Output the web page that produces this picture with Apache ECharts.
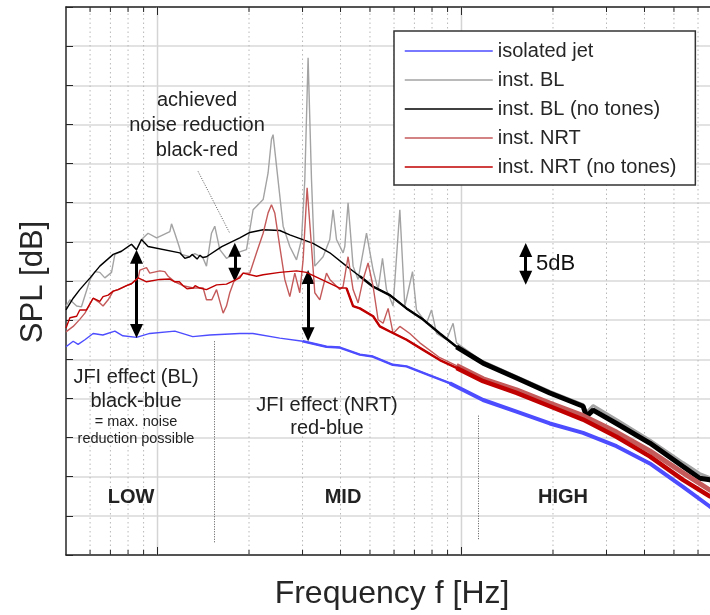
<!DOCTYPE html>
<html>
<head>
<meta charset="utf-8">
<script src="https://cdn.jsdelivr.net/npm/echarts@6/dist/echarts.min.js"></script>
<style>
  html, body { margin: 0; padding: 0; background: #fff; }
  #main { width: 710px; height: 615px; }
</style>
</head>
<body>
<div id="main"></div>
<script>
// spectra: [frequency Hz, SPL dB]
var isolatedJet = [[500,66.6],[528,67.3],[548,66.9],[577,67.5],[614,68.3],[661,68.1],[724,68.6],[769,68.0],[853,67.8],[943,68.3],[1140,68.6],[1306,67.9],[1486,68.1],[1865,68.3],[2059,68.3],[2525,67.7],[3006,67.3],[3597,66.6],[3979,66.5],[4630,65.6],[5108,65.35],[5943,64.3],[6595,64.1],[8046,62.8],[9152,61.95],[11780,59.8],[15170,58.3],[19520,56.8],[25120,55.6],[32350,53.9],[41640,51.7],[53570,48.7],[65600,46.2],[70000,45.5]];

var instBL = [[500,71.8],[515,72.6],[542,71.8],[562,71.7],[600,75.2],[622,76.2],[646,76.1],[671,75.4],[706,76.1],[724,78.4],[761,78.8],[821,79.7],[853,79.0],[886,80.3],[931,81.1],[993,80.5],[1043,80.9],[1098,81.3],[1112,82.3],[1140,81.1],[1178,79.4],[1199,78.4],[1277,78.1],[1326,78.5],[1409,78.0],[1449,76.9],[1505,81.1],[1543,82.0],[1603,79.0],[1686,77.9],[1820,78.6],[1962,79.0],[2063,84.1],[2226,85.4],[2311,88.8],[2371,93.1],[2400,93.7],[2463,89.7],[2590,82.0],[2724,79.4],[2866,77.7],[2977,80.3],[3052,87.9],[3129,103.5],[3211,87.9],[3292,76.9],[3505,78.1],[3688,80.3],[3781,84.1],[3880,80.3],[4079,78.6],[4132,79.4],[4236,85.0],[4399,76.9],[4570,75.2],[4870,81.1],[5120,76.4],[5318,73.9],[5497,77.9],[5666,73.9],[5957,71.8],[6269,84.1],[6510,71.8],[6660,73.5],[6901,76.2],[7112,71.3],[7674,69.6],[7968,71.3],[8277,68.3],[8928,67.5],[9385,69.6],[9630,67.1],[11780,64.7],[15170,62.8],[19520,60.9],[25120,59.2],[25780,58.2],[27100,59.1],[32350,57.3],[41640,54.7],[53570,51.8],[60790,50.4],[65600,49.9],[70000,49.5]];

var instBLNoTones = [[500,71.3],[528,72.8],[555,73.9],[600,75.4],[646,76.9],[715,78.4],[761,78.8],[821,79.7],[853,79.0],[886,80.3],[931,79.4],[1184,78.6],[1230,77.9],[1277,78.1],[1300,78.4],[1350,77.8],[1380,78.3],[1409,78.0],[1449,78.1],[1627,79.4],[1865,80.5],[2012,81.2],[2226,81.55],[2525,81.45],[2724,80.9],[3249,79.8],[3688,78.6],[4185,76.9],[4630,75.6],[5108,74.3],[5811,73.2],[6595,71.5],[7461,70.1],[8488,68.3],[9630,66.6],[11780,64.5],[15170,62.6],[19520,60.7],[25120,59.0],[25780,57.7],[27100,58.5],[32350,56.8],[41640,54.3],[53570,51.3],[60790,49.8],[65600,49.6],[70000,49.3]];

var instNRT = [[500,68.5],[528,69.2],[555,70.1],[577,70.9],[614,72.8],[646,72.2],[662,71.8],[688,72.6],[715,73.7],[742,73.9],[791,74.4],[821,74.65],[864,75.4],[875,76.4],[920,76.7],[943,76.0],[1018,76.3],[1057,76.2],[1084,75.6],[1140,74.9],[1214,74.4],[1310,74.1],[1413,74.1],[1449,72.6],[1509,72.6],[1564,73.9],[1603,72.4],[1644,70.9],[1686,71.8],[1729,73.5],[1782,74.9],[1912,76.0],[2012,76.0],[2117,78.6],[2226,81.1],[2311,83.7],[2371,84.75],[2431,83.7],[2525,79.4],[2623,75.2],[2724,73.0],[2829,76.0],[2938,73.5],[3013,77.7],[3106,86.9],[3211,79.4],[3292,73.5],[3419,72.6],[3597,76.0],[3688,75.2],[3979,73.9],[4079,74.3],[4236,78.1],[4399,73.9],[4570,72.2],[4746,75.2],[4929,77.3],[5120,74.3],[5318,70.05],[5523,69.6],[5737,71.5],[5957,68.3],[6269,69.2],[6761,68.3],[7294,67.1],[8488,65.2],[9630,64.2],[11780,62.5],[15170,61.1],[19520,59.4],[25120,57.8],[32350,55.7],[41640,53.3],[53570,50.5],[65600,48.3],[70000,47.8]];

var instNRTNoTones = [[500,69.0],[515,70.3],[542,70.5],[555,71.3],[584,71.3],[614,72.8],[646,72.4],[662,73.0],[688,73.2],[715,73.7],[742,73.9],[791,74.4],[821,74.65],[864,75.4],[920,74.9],[1018,75.2],[1098,75.25],[1140,74.9],[1180,74.9],[1214,74.4],[1250,74.0],[1310,74.1],[1330,74.4],[1377,74.1],[1449,73.9],[1564,74.5],[1686,74.6],[1865,75.4],[1912,76.0],[2117,75.6],[2226,75.8],[2525,76.1],[2866,76.3],[3091,76.1],[3334,75.5],[3688,74.7],[3979,74.1],[4185,74.1],[4399,71.8],[4630,71.5],[5120,70.5],[5387,69.2],[5811,68.55],[6595,67.5],[7478,66.2],[8488,64.9],[9630,63.9],[11780,62.2],[15170,60.7],[19520,59.0],[25120,57.3],[32350,55.1],[41640,52.6],[53570,49.6],[65600,47.5],[70000,47.0]];

var seriesNames = ['isolated jet', 'inst. BL', 'inst. BL (no tones)', 'inst. NRT', 'inst. NRT (no tones)'];
var seriesColors = ['#4d4dff', '#a3a3a3', '#000000', '#c45a5a', '#c00000'];

// axis ticks (Hz)
var majorTicks = [1000, 10000];
var minorTicks = [600, 700, 800, 900, 2000, 3000, 4000, 5000, 6000, 7000, 8000, 9000, 20000, 30000, 40000, 50000, 60000];
var yMin = 40, yMax = 110, yStep = 5;
var fMin = 500, fMax = 65700;

// double arrows: [freq, upper end dB, lower end dB]
var arrows = [[853, 78.1, 68.6], [1796, 79.0, 75.8], [3129, 75.5, 68.2], [16270, 78.95, 75.4]];
// dotted guides: [f1, dB1, f2, dB2]
var guides = [[1535, 67.3, 1535, 41.5], [11340, 57.8, 11340, 41.9], [1360, 89.0, 1729, 81.1]];

var chart = echarts.init(document.getElementById('main'));
var font = '"Liberation Sans", Arial, sans-serif';
var txt = '#262626';

var tickData = majorTicks.map(function (f) { return [f, yMin, 1]; })
  .concat(minorTicks.map(function (f) { return [f, yMin, 0]; }));

function renderTick(params, api) {
  var f = api.value(0);
  var major = api.value(2) === 1;
  var b = api.coord([f, yMin]);
  var t = api.coord([f, yMax]);
  var len = major ? 8 : 5;
  return {
    type: 'group',
    children: [
      { type: 'line', shape: { x1: b[0], y1: b[1], x2: t[0], y2: t[1] },
        style: major ? { stroke: '#d4d4d4', lineWidth: 1.5 } : { stroke: '#b8b8b8', lineWidth: 1, lineDash: [1.5, 3] } },
      { type: 'line', shape: { x1: b[0], y1: b[1], x2: b[0], y2: b[1] - len }, style: { stroke: txt, lineWidth: 1 } },
      { type: 'line', shape: { x1: t[0], y1: t[1], x2: t[0], y2: t[1] + len }, style: { stroke: txt, lineWidth: 1 } }
    ]
  };
}

function from(data, f0) {
  return data.filter(function (p) { return p[0] >= f0; });
}

var markData = arrows.map(function (a) {
  return [
    { coord: [a[0], a[1]], symbol: 'triangle', symbolSize: [13, 14], lineStyle: { color: '#000', width: 3, type: 'solid' } },
    { coord: [a[0], a[2]], symbol: 'triangle', symbolSize: [13, 14] }
  ];
}).concat(guides.map(function (g) {
  return [
    { coord: [g[0], g[1]], symbol: 'none', lineStyle: { color: '#555', width: 1, type: [1, 1.5] } },
    { coord: [g[2], g[3]], symbol: 'none' }
  ];
}));

var allData = [isolatedJet, instBL, instBLNoTones, instNRT, instNRTNoTones];
var series = [{
  type: 'custom',
  name: 'ticks',
  z: 1,
  silent: true,
  renderItem: renderTick,
  data: tickData
}];

allData.forEach(function (d, i) {
  series.push({
    type: 'line', name: seriesNames[i], data: d, symbol: 'none', z: 3 + i,
    lineStyle: { color: seriesColors[i], width: 1.4 }, itemStyle: { color: seriesColors[i] }
  });
});

// noisy high-frequency bands: [data, colour index, start Hz, width]
var bands = [
  [isolatedJet, 0, 3000, 2.4], [isolatedJet, 0, 9000, 4],
  [instBL, 1, 11000, 3],
  [instBLNoTones, 2, 4200, 2.4], [instBLNoTones, 2, 9000, 5],
  [instNRT, 3, 9000, 5],
  [instNRTNoTones, 4, 4000, 2.4], [instNRTNoTones, 4, 9000, 4.5]
];
bands.forEach(function (b, k) {
  series.push({
    type: 'line', name: 'band' + k, data: from(b[0], b[2]), symbol: 'none', z: 3 + b[1], silent: true,
    lineStyle: { color: seriesColors[b[1]], width: b[3] }
  });
});

series.push({
  type: 'line', name: 'annot', data: [], symbol: 'none', z: 20,
  markLine: {
    silent: true, animation: false,
    label: { show: false },
    lineStyle: { color: '#000' },
    itemStyle: { color: '#000' },
    data: markData
  }
});

function label(text, x, y, size, bold) {
  return {
    type: 'text', x: x, y: y, z: 50,
    style: { text: text, align: 'center', verticalAlign: 'middle', fill: '#222',
      font: (bold ? 'bold ' : '') + size + 'px ' + font }
  };
}

var hidden = { show: false };
var option = {
  animation: false,
  grid: { left: 66, top: 7, right: 0, bottom: 60 },
  xAxis: [{
    type: 'log', logBase: 10, min: fMin, max: fMax, position: 'bottom',
    axisLine: { show: true, onZero: false, lineStyle: { color: txt, width: 1.5 } },
    axisTick: hidden, axisLabel: hidden, splitLine: hidden
  }, {
    type: 'log', logBase: 10, min: fMin, max: fMax, position: 'top',
    axisLine: { show: true, onZero: false, lineStyle: { color: txt, width: 1.5 } },
    axisTick: hidden, axisLabel: hidden, splitLine: hidden
  }],
  yAxis: {
    type: 'value', min: yMin, max: yMax, interval: yStep,
    axisLine: { show: true, lineStyle: { color: txt, width: 1.5 } },
    axisTick: { show: true, inside: true, length: 7, lineStyle: { color: txt, width: 1 } },
    axisLabel: hidden,
    splitLine: { show: true, lineStyle: { color: '#d8d8d8', width: 1.5 } }
  },
  legend: {
    data: seriesNames, orient: 'vertical', left: 394, top: 31,
    padding: [10, 19, 8, 10], itemWidth: 88, itemHeight: 14, itemGap: 9,
    borderColor: '#333', borderWidth: 1.5, backgroundColor: '#fff',
    itemStyle: { opacity: 0 },
    lineStyle: { width: 1.5 },
    textStyle: { fontSize: 20, color: txt, fontFamily: font, lineHeight: 20 }
  },
  graphic: [
    label('achieved', 197, 100, 20),
    label('noise reduction', 197, 125, 20),
    label('black-red', 197, 150, 20),
    label('JFI effect (BL)', 136, 377, 20),
    label('black-blue', 136, 401, 20),
    label('= max. noise', 136, 422, 14.5),
    label('reduction possible', 136, 439, 14.5),
    label('JFI effect (NRT)', 327, 405, 20),
    label('red-blue', 327, 428, 20),
    label('LOW', 131, 497, 20, true),
    label('MID', 343, 497, 20, true),
    label('HIGH', 563, 497, 20, true),
    { type: 'text', x: 536, y: 264, z: 50, style: { text: '5dB', align: 'left', verticalAlign: 'middle', fill: '#111', font: '22px ' + font } },
    { type: 'text', x: 392, y: 594, z: 50, style: { text: 'Frequency f [Hz]', align: 'center', verticalAlign: 'middle', fill: txt, font: '32px ' + font } },
    { type: 'text', x: 33, y: 282, z: 50, rotation: Math.PI / 2, style: { text: 'SPL [dB]', align: 'center', verticalAlign: 'middle', fill: txt, font: '31px ' + font } }
  ],
  series: series
};

chart.setOption(option);
</script>
</body>
</html>
